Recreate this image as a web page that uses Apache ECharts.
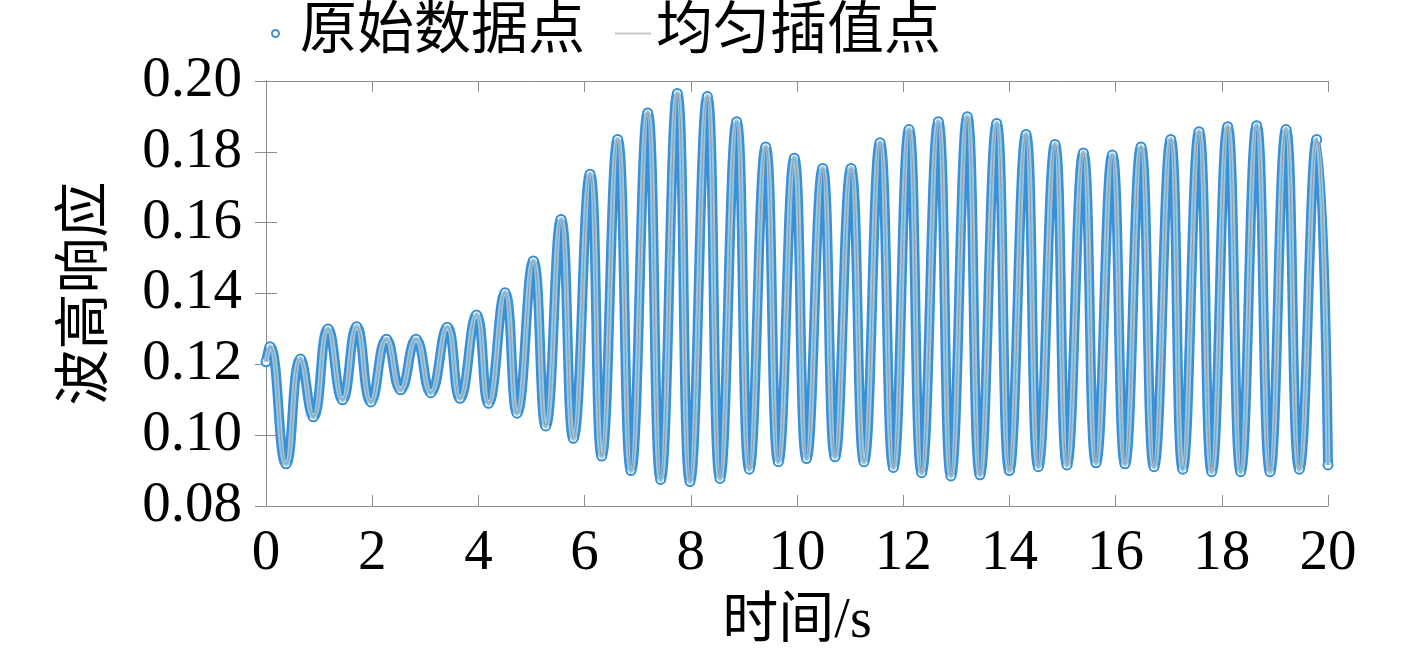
<!DOCTYPE html>
<html>
<head>
<meta charset="utf-8">
<script src="https://cdn.jsdelivr.net/npm/echarts@6/dist/echarts.min.js"></script>
<style>
  html, body { margin: 0; padding: 0; background: #fff; }
  #chart { width: 1417px; height: 658px; }
</style>
</head>
<body>
<div id="chart"></div>
<script>
// turning points of the wave-height record
const extremaTime = [
    0.00, 0.075, 0.377, 0.650, 0.891, 1.168, 1.441, 1.708, 1.977, 2.269,
    2.536, 2.825, 3.102, 3.414, 3.653, 3.964, 4.190, 4.501, 4.727, 5.034,
    5.267, 5.556, 5.787, 6.102, 6.322, 6.623, 6.874, 7.188, 7.433, 7.746,
    7.985, 8.311, 8.550, 8.864, 9.102, 9.411, 9.648, 9.949, 10.179, 10.484,
    10.716, 11.017, 11.262, 11.563, 11.814, 12.109, 12.348, 12.661, 12.900, 13.207,
    13.446, 13.761, 13.998, 14.313, 14.544, 14.859, 15.085, 15.392, 15.631, 15.938,
    16.177, 16.478, 16.723, 17.038, 17.264, 17.571, 17.810, 18.111, 18.356, 18.657,
    18.908, 19.209, 19.460, 19.788, 20.00
];
const extremaHeight = [
    0.1207, 0.1250, 0.0919, 0.1215, 0.1052, 0.1300, 0.1100, 0.1306, 0.1094, 0.1271,
    0.1128, 0.1271, 0.1120, 0.1305, 0.1104, 0.1339, 0.1090, 0.1402, 0.1062, 0.1492,
    0.1026, 0.1609, 0.0991, 0.1737, 0.0941, 0.1835, 0.0900, 0.1910, 0.0875, 0.1965,
    0.0869, 0.1956, 0.0878, 0.1885, 0.0904, 0.1814, 0.0925, 0.1782, 0.0934, 0.1753,
    0.0939, 0.1753, 0.0925, 0.1826, 0.0909, 0.1863, 0.0894, 0.1885, 0.0885, 0.1899,
    0.0888, 0.1880, 0.0900, 0.1849, 0.0911, 0.1821, 0.0916, 0.1797, 0.0922, 0.1791,
    0.0919, 0.1814, 0.0911, 0.1835, 0.0904, 0.1857, 0.0897, 0.1871, 0.0897, 0.1874,
    0.0897, 0.1863, 0.0904, 0.1835, 0.0916
];
const legendNames = ['原始数据点', '均匀插值点'];
const xName = '时间/s';
const yName = '波高响应';

const serifFont = "'Liberation Serif', 'Noto Sans CJK SC', serif";
const axisGray = '#868e92';
const pointColor = '#3a8fd6';

const points = extremaTime.map((t, i) => [t, extremaHeight[i]]);

const frameAxis = (extra) => Object.assign({
    type: 'value',
    axisLine: { show: true, lineStyle: { color: axisGray, width: 1 } },
    axisTick: { show: true, inside: true, length: 11, lineStyle: { color: axisGray } },
    splitLine: { show: false },
    axisLabel: { show: false }
}, extra);

const labelStyle = {
    show: true,
    fontFamily: serifFont,
    fontSize: 57,
    color: '#000'
};

const option = {
    backgroundColor: '#fff',
    animation: false,
    grid: { left: 266, right: 89, top: 81, bottom: 152 },
    legend: [
        {
            left: 266,
            top: 0,
            itemWidth: 7,
            itemHeight: 7,
            data: [{ name: legendNames[0], icon: 'emptyCircle', itemStyle: { borderColor: '#4aa6be' } }],
            textStyle: { fontFamily: serifFont, fontSize: 57, color: '#000', padding: [0, 0, 0, 16] }
        },
        {
            left: 610,
            top: 0,
            itemWidth: 36,
            itemHeight: 2,
            data: [{ name: legendNames[1], icon: 'rect', itemStyle: { color: '#c6c4cc' } }],
            textStyle: { fontFamily: serifFont, fontSize: 57, color: '#000' }
        }
    ],
    xAxis: [
        frameAxis({
            min: 0,
            max: 20,
            interval: 2,
            position: 'bottom',
            name: xName,
            nameLocation: 'middle',
            nameGap: 88,
            nameTextStyle: { fontFamily: serifFont, fontSize: 56, color: '#000' },
            axisLabel: Object.assign({ margin: 20 }, labelStyle)
        }),
        frameAxis({ min: 0, max: 20, interval: 2, position: 'top' })
    ],
    yAxis: [
        frameAxis({
            min: 0.08,
            max: 0.20,
            interval: 0.02,
            position: 'left',
            name: yName,
            nameLocation: 'middle',
            nameGap: 151,
            nameRotate: 90,
            nameTextStyle: { fontFamily: serifFont, fontSize: 56, color: '#000' },
            axisLabel: Object.assign({
                margin: 24,
                formatter: (v) => v.toFixed(2)
            }, labelStyle)
        }),
        frameAxis({ min: 0.08, max: 0.20, interval: 0.02, position: 'right' })
    ],
    series: [
        {
            name: legendNames[0],
            type: 'line',
            data: points,
            smooth: 0.5,
            symbol: 'emptyCircle',
            symbolSize: 9,
            showSymbol: true,
            itemStyle: { color: pointColor, borderColor: pointColor, borderWidth: 1.2 },
            lineStyle: { color: pointColor, width: 10 },
            z: 2
        },
        {
            name: legendNames[0],
            type: 'line',
            data: points,
            smooth: 0.5,
            showSymbol: false,
            silent: true,
            lineStyle: { color: '#93c9e0', width: 5 },
            z: 3
        },
        {
            name: legendNames[1],
            type: 'line',
            data: points,
            smooth: 0.5,
            showSymbol: false,
            lineStyle: { color: '#9a92a4', width: 1 },
            z: 4
        }
    ]
};

const chart = echarts.init(document.getElementById('chart'));
chart.setOption(option);
</script>
</body>
</html>
